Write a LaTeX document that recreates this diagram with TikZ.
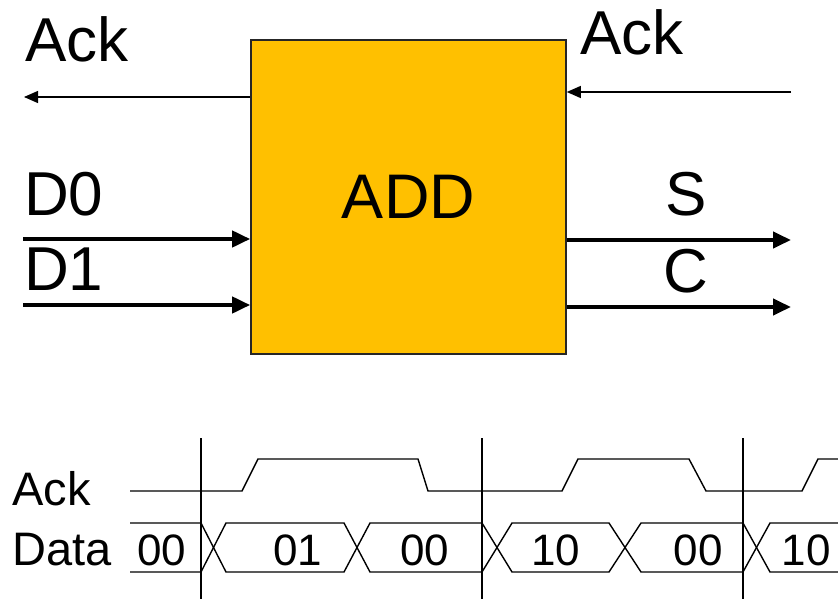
\documentclass[tikz,border=0pt]{standalone}
\usepackage{fontspec}
\setmainfont{Liberation Sans}
\usepackage{tikz}
\usetikzlibrary{arrows.meta}
\definecolor{addfill}{HTML}{FFC000}

\begin{document}
\begin{tikzpicture}[
    x=1pt, y=-1pt,
    big/.style={inner sep=0pt, font=\fontsize{62}{74}\selectfont},
    small/.style={inner sep=0pt, font=\fontsize{47}{56}\selectfont},
    val/.style={inner sep=0pt, anchor=base, font=\fontsize{44}{52}\selectfont},
    ackwire/.style={line width=1.3pt, -{Triangle[length=14pt, width=12pt]}},
    datawire/.style={line width=4pt, -{Triangle[length=18pt, width=16pt]}},
    wave/.style={line width=1.4pt}
]
\useasboundingbox (0,0) rectangle (838,599);

\node[draw=black!85, line width=1.6pt, fill=addfill, minimum width=315pt, minimum height=314pt, font=\fontsize{63}{75}\selectfont] (add) at (408.5,197) {ADD};

\node[big, anchor=base west] (ackl) at (25,62) {Ack};
\node[big, anchor=base west] (ackr) at (580,55) {Ack};
\node[big, anchor=base west] (dzero) at (24,215) {D0};
\node[big, anchor=base west] (done) at (24,290) {D1};
\node[big, anchor=base] (sout) at (686,215) {S};
\node[big, anchor=base] (cout) at (686,292) {C};

\coordinate (ackl end) at (24,97);
\coordinate (ackr start) at (791,92);
\coordinate (dzero start) at (23,239);
\coordinate (done start) at (23,305);
\coordinate (sout end) at (791,240);
\coordinate (cout end) at (791,307);

\draw[ackwire] (add.west |- ackl end) -- (ackl end);
\draw[ackwire] (ackr start) -- (add.east |- ackr start);
\draw[datawire] (dzero start) -- (add.west |- dzero start);
\draw[datawire] (done start) -- (add.west |- done start);
\draw[datawire] (add.east |- sout end) -- (sout end);
\draw[datawire] (add.east |- cout end) -- (cout end);

\node[small, anchor=base west] (tack) at (12,505) {Ack};
\node[small, anchor=base west] (tdata) at (12,565) {Data};

\foreach \x in {201,482,743}
    \draw[wave] (\x,438) -- (\x,599);

\draw[wave] (130,491) -- (242,491) -- (258,459) -- (418,459) -- (428,491) -- (562,491) -- (578,459) -- (689,459) -- (706,491) -- (802,491) -- (818,459) -- (838,459);

\draw[wave] (130,523) -- (201,523) -- (226,572) -- (344,572) -- (370,523) -- (482,523) -- (512,572) -- (609,572) -- (641,523) -- (743,523) -- (770,572) -- (838,572);
\draw[wave] (130,572) -- (201,572) -- (226,523) -- (344,523) -- (370,572) -- (482,572) -- (512,523) -- (609,523) -- (641,572) -- (743,572) -- (770,523) -- (838,523);

\node[val] (vone) at (162,565) {00};
\node[val] (vtwo) at (298,565) {01};
\node[val] (vthree) at (425,565) {00};
\node[val] (vfour) at (556,565) {10};
\node[val] (vfive) at (698,565) {00};
\node[val] (vsix) at (806,565) {10};
\end{tikzpicture}
\end{document}
